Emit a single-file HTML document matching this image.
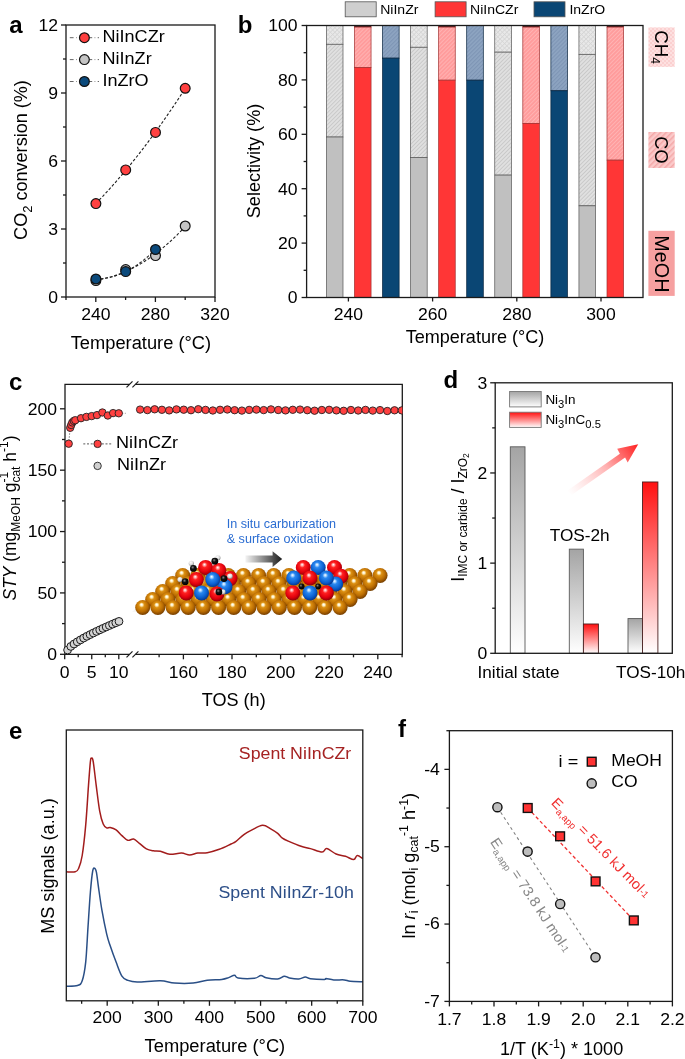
<!DOCTYPE html>
<html><head><meta charset="utf-8"><title>Figure</title>
<style>
html,body{margin:0;padding:0;background:#fff;overflow:hidden;}
svg{display:block;will-change:transform;}
text{font-family:"Liberation Sans",sans-serif;}
</style></head>
<body>
<svg width="685" height="1059" viewBox="0 0 685 1059">
<rect width="685" height="1059" fill="#fff"/>
<defs>
<pattern id="hg" width="2.8" height="2.8" patternUnits="userSpaceOnUse" patternTransform="rotate(45)"><rect width="2.8" height="2.8" fill="#e0e0e0"/><rect width="0.8" height="2.8" fill="#c6c6c6"/></pattern>
<pattern id="xg" width="3.2" height="3.2" patternUnits="userSpaceOnUse" patternTransform="rotate(45)"><rect width="3.2" height="3.2" fill="#e8e8e8"/><rect width="0.7" height="3.2" fill="#d2d2d2"/><rect width="3.2" height="0.7" fill="#d6d6d6"/></pattern>
<pattern id="hr" width="2.8" height="2.8" patternUnits="userSpaceOnUse" patternTransform="rotate(45)"><rect width="2.8" height="2.8" fill="#ff9c9c"/><rect width="0.9" height="2.8" fill="#ffb4b4"/></pattern>
<pattern id="hb" width="2.8" height="2.8" patternUnits="userSpaceOnUse" patternTransform="rotate(45)"><rect width="2.8" height="2.8" fill="#8ca3c0"/><rect width="0.9" height="2.8" fill="#7c94b4"/></pattern>
<pattern id="hpk" width="4" height="4" patternUnits="userSpaceOnUse"><rect width="4" height="4" fill="#fde0e0"/><rect width="2" height="2" fill="#fbd0d0"/><rect x="2" y="2" width="2" height="2" fill="#fbd0d0"/></pattern>
<pattern id="hpk2" width="4" height="4" patternUnits="userSpaceOnUse" patternTransform="rotate(45)"><rect width="4" height="4" fill="#fbcaca"/><rect width="1.5" height="4" fill="#f4a8a8"/></pattern>
</defs>
<text transform="translate(9.20,32.80) scale(1.0,1)" font-size="24" text-anchor="start" fill="#000" font-weight="bold">a</text>
<line x1="61.00" y1="297.00" x2="66.00" y2="297.00" stroke="#1a1a1a" stroke-width="1.3"/>
<text transform="translate(58.00,302.80) scale(1.035294117647059,1)" font-size="17.0" text-anchor="end" fill="#000">0</text>
<line x1="61.00" y1="229.00" x2="66.00" y2="229.00" stroke="#1a1a1a" stroke-width="1.3"/>
<text transform="translate(58.00,234.80) scale(1.035294117647059,1)" font-size="17.0" text-anchor="end" fill="#000">3</text>
<line x1="61.00" y1="161.00" x2="66.00" y2="161.00" stroke="#1a1a1a" stroke-width="1.3"/>
<text transform="translate(58.00,166.80) scale(1.035294117647059,1)" font-size="17.0" text-anchor="end" fill="#000">6</text>
<line x1="61.00" y1="93.00" x2="66.00" y2="93.00" stroke="#1a1a1a" stroke-width="1.3"/>
<text transform="translate(58.00,98.80) scale(1.035294117647059,1)" font-size="17.0" text-anchor="end" fill="#000">9</text>
<line x1="61.00" y1="25.00" x2="66.00" y2="25.00" stroke="#1a1a1a" stroke-width="1.3"/>
<text transform="translate(58.00,30.80) scale(1.035294117647059,1)" font-size="17.0" text-anchor="end" fill="#000">12</text>
<line x1="63.00" y1="263.00" x2="66.00" y2="263.00" stroke="#1a1a1a" stroke-width="1.3"/>
<line x1="63.00" y1="195.00" x2="66.00" y2="195.00" stroke="#1a1a1a" stroke-width="1.3"/>
<line x1="63.00" y1="127.00" x2="66.00" y2="127.00" stroke="#1a1a1a" stroke-width="1.3"/>
<line x1="63.00" y1="59.00" x2="66.00" y2="59.00" stroke="#1a1a1a" stroke-width="1.3"/>
<line x1="95.80" y1="297.00" x2="95.80" y2="302.00" stroke="#1a1a1a" stroke-width="1.3"/>
<text transform="translate(95.80,319.70) scale(1.035294117647059,1)" font-size="17.0" text-anchor="middle" fill="#000">240</text>
<line x1="155.40" y1="297.00" x2="155.40" y2="302.00" stroke="#1a1a1a" stroke-width="1.3"/>
<text transform="translate(155.40,319.70) scale(1.035294117647059,1)" font-size="17.0" text-anchor="middle" fill="#000">280</text>
<line x1="215.00" y1="297.00" x2="215.00" y2="302.00" stroke="#1a1a1a" stroke-width="1.3"/>
<text transform="translate(215.00,319.70) scale(1.035294117647059,1)" font-size="17.0" text-anchor="middle" fill="#000">320</text>
<line x1="66.00" y1="297.00" x2="66.00" y2="300.00" stroke="#1a1a1a" stroke-width="1.3"/>
<line x1="125.60" y1="297.00" x2="125.60" y2="300.00" stroke="#1a1a1a" stroke-width="1.3"/>
<line x1="185.20" y1="297.00" x2="185.20" y2="300.00" stroke="#1a1a1a" stroke-width="1.3"/>
<text transform="translate(140.90,348.60) scale(1.004835164835165,1)" font-size="18.2" text-anchor="middle" fill="#000">Temperature (°C)</text>
<text transform="translate(27.30,160.00) rotate(-90) scale(0.9934065934065933,1)" font-size="18.2" text-anchor="middle" fill="#000">CO<tspan font-size="13" dy="4.5">2</tspan><tspan dy="-4.5"> conversion (%)</tspan></text>
<path d="M95.90,203.45 L98.19,201.10 L100.48,198.71 L102.77,196.29 L105.06,193.84 L107.35,191.36 L109.64,188.84 L111.93,186.30 L114.22,183.73 L116.51,181.12 L118.80,178.48 L121.09,175.81 L123.38,173.11 L125.67,170.38 L127.96,167.62 L130.25,164.83 L132.54,162.00 L134.83,159.15 L137.12,156.26 L139.41,153.34 L141.69,150.40 L143.98,147.42 L146.27,144.40 L148.56,141.36 L150.85,138.29 L153.14,135.18 L155.43,132.05 L157.72,128.88 L160.01,125.68 L162.30,122.45 L164.59,119.19 L166.88,115.90 L169.17,112.58 L171.46,109.23 L173.75,105.84 L176.04,102.42 L178.33,98.98 L180.62,95.50 L182.91,91.99 L185.20,88.45" fill="none" stroke="#222" stroke-width="1.1" stroke-dasharray="2.8,1.9"/>
<path d="M95.90,279.97 L98.19,279.65 L100.48,279.27 L102.77,278.84 L105.06,278.36 L107.35,277.82 L109.64,277.23 L111.93,276.58 L114.22,275.87 L116.51,275.11 L118.80,274.30 L121.09,273.43 L123.38,272.50 L125.67,271.52 L127.96,270.48 L130.25,269.39 L132.54,268.24 L134.83,267.04 L137.12,265.79 L139.41,264.47 L141.69,263.11 L143.98,261.68 L146.27,260.21 L148.56,258.67 L150.85,257.08 L153.14,255.44 L155.43,253.74 L157.72,251.99 L160.01,250.18 L162.30,248.32 L164.59,246.40 L166.88,244.42 L169.17,242.39 L171.46,240.31 L173.75,238.17 L176.04,235.97 L178.33,233.72 L180.62,231.41 L182.91,229.05 L185.20,226.64" fill="none" stroke="#222" stroke-width="1.1" stroke-dasharray="2.8,1.9"/>
<path d="M95.90,279.00 L97.43,278.98 L98.96,278.92 L100.48,278.82 L102.01,278.68 L103.54,278.50 L105.07,278.29 L106.60,278.03 L108.13,277.74 L109.65,277.41 L111.18,277.04 L112.71,276.63 L114.24,276.19 L115.77,275.70 L117.29,275.18 L118.82,274.61 L120.35,274.01 L121.88,273.37 L123.41,272.69 L124.94,271.97 L126.46,271.22 L127.99,270.42 L129.52,269.59 L131.05,268.72 L132.58,267.80 L134.11,266.86 L135.63,265.87 L137.16,264.84 L138.69,263.77 L140.22,262.67 L141.75,261.53 L143.27,260.34 L144.80,259.12 L146.33,257.87 L147.86,256.57 L149.39,255.23 L150.92,253.86 L152.44,252.44 L153.97,250.99 L155.50,249.50" fill="none" stroke="#222" stroke-width="1.1" stroke-dasharray="2.8,1.9"/>
<circle cx="95.90" cy="280.60" r="4.90" fill="#c4c4c4" stroke="#111" stroke-width="1.2"/>
<circle cx="125.70" cy="269.60" r="4.90" fill="#c4c4c4" stroke="#111" stroke-width="1.2"/>
<circle cx="155.50" cy="255.60" r="4.90" fill="#c4c4c4" stroke="#111" stroke-width="1.2"/>
<circle cx="185.20" cy="226.00" r="4.90" fill="#c4c4c4" stroke="#111" stroke-width="1.2"/>
<circle cx="95.90" cy="279.00" r="4.90" fill="#0b4a7c" stroke="#111" stroke-width="1.2"/>
<circle cx="125.70" cy="271.60" r="4.90" fill="#0b4a7c" stroke="#111" stroke-width="1.2"/>
<circle cx="155.50" cy="249.50" r="4.90" fill="#0b4a7c" stroke="#111" stroke-width="1.2"/>
<circle cx="95.90" cy="203.60" r="4.90" fill="#ff4040" stroke="#111" stroke-width="1.2"/>
<circle cx="125.70" cy="169.90" r="4.90" fill="#ff4040" stroke="#111" stroke-width="1.2"/>
<circle cx="155.50" cy="132.40" r="4.90" fill="#ff4040" stroke="#111" stroke-width="1.2"/>
<circle cx="185.20" cy="88.30" r="4.90" fill="#ff4040" stroke="#111" stroke-width="1.2"/>
<line x1="69.80" y1="37.70" x2="99.00" y2="37.70" stroke="#555" stroke-width="0.9" stroke-dasharray="3.8,2.4,0.7,2.4"/>
<circle cx="84.40" cy="37.70" r="4.90" fill="#ff4040" stroke="#111" stroke-width="1.2"/>
<text transform="translate(102.50,41.90) scale(1.0635294117647058,1)" font-size="17.0" text-anchor="start" fill="#000">NiInCZr</text>
<line x1="69.80" y1="59.60" x2="99.00" y2="59.60" stroke="#555" stroke-width="0.9" stroke-dasharray="3.8,2.4,0.7,2.4"/>
<circle cx="84.40" cy="59.60" r="4.90" fill="#c4c4c4" stroke="#111" stroke-width="1.2"/>
<text transform="translate(102.50,63.80) scale(1.0635294117647058,1)" font-size="17.0" text-anchor="start" fill="#000">NiInZr</text>
<line x1="69.80" y1="81.50" x2="99.00" y2="81.50" stroke="#555" stroke-width="0.9" stroke-dasharray="3.8,2.4,0.7,2.4"/>
<circle cx="84.40" cy="81.50" r="4.90" fill="#0b4a7c" stroke="#111" stroke-width="1.2"/>
<text transform="translate(102.50,85.70) scale(1.0635294117647058,1)" font-size="17.0" text-anchor="start" fill="#000">InZrO</text>
<rect x="66.00" y="25.00" width="149.00" height="272.00" fill="none" stroke="#1a1a1a" stroke-width="1.3"/>
<text transform="translate(237.80,32.60) scale(1.0,1)" font-size="24" text-anchor="start" fill="#000" font-weight="bold">b</text>
<line x1="301.60" y1="297.50" x2="306.60" y2="297.50" stroke="#1a1a1a" stroke-width="1.3"/>
<text transform="translate(297.60,303.30) scale(1.035294117647059,1)" font-size="17.0" text-anchor="end" fill="#000">0</text>
<line x1="301.60" y1="243.10" x2="306.60" y2="243.10" stroke="#1a1a1a" stroke-width="1.3"/>
<text transform="translate(297.60,248.90) scale(1.035294117647059,1)" font-size="17.0" text-anchor="end" fill="#000">20</text>
<line x1="301.60" y1="188.70" x2="306.60" y2="188.70" stroke="#1a1a1a" stroke-width="1.3"/>
<text transform="translate(297.60,194.50) scale(1.035294117647059,1)" font-size="17.0" text-anchor="end" fill="#000">40</text>
<line x1="301.60" y1="134.30" x2="306.60" y2="134.30" stroke="#1a1a1a" stroke-width="1.3"/>
<text transform="translate(297.60,140.10) scale(1.035294117647059,1)" font-size="17.0" text-anchor="end" fill="#000">60</text>
<line x1="301.60" y1="79.90" x2="306.60" y2="79.90" stroke="#1a1a1a" stroke-width="1.3"/>
<text transform="translate(297.60,85.70) scale(1.035294117647059,1)" font-size="17.0" text-anchor="end" fill="#000">80</text>
<line x1="301.60" y1="25.50" x2="306.60" y2="25.50" stroke="#1a1a1a" stroke-width="1.3"/>
<text transform="translate(297.60,31.30) scale(1.035294117647059,1)" font-size="17.0" text-anchor="end" fill="#000">100</text>
<line x1="303.60" y1="270.30" x2="306.60" y2="270.30" stroke="#1a1a1a" stroke-width="1.3"/>
<line x1="303.60" y1="215.90" x2="306.60" y2="215.90" stroke="#1a1a1a" stroke-width="1.3"/>
<line x1="303.60" y1="161.50" x2="306.60" y2="161.50" stroke="#1a1a1a" stroke-width="1.3"/>
<line x1="303.60" y1="107.10" x2="306.60" y2="107.10" stroke="#1a1a1a" stroke-width="1.3"/>
<line x1="303.60" y1="52.70" x2="306.60" y2="52.70" stroke="#1a1a1a" stroke-width="1.3"/>
<line x1="348.40" y1="297.50" x2="348.40" y2="301.50" stroke="#1a1a1a" stroke-width="1.3"/>
<text transform="translate(348.40,320.20) scale(1.035294117647059,1)" font-size="17.0" text-anchor="middle" fill="#000">240</text>
<line x1="432.60" y1="297.50" x2="432.60" y2="301.50" stroke="#1a1a1a" stroke-width="1.3"/>
<text transform="translate(432.60,320.20) scale(1.035294117647059,1)" font-size="17.0" text-anchor="middle" fill="#000">260</text>
<line x1="516.80" y1="297.50" x2="516.80" y2="301.50" stroke="#1a1a1a" stroke-width="1.3"/>
<text transform="translate(516.80,320.20) scale(1.035294117647059,1)" font-size="17.0" text-anchor="middle" fill="#000">280</text>
<line x1="601.00" y1="297.50" x2="601.00" y2="301.50" stroke="#1a1a1a" stroke-width="1.3"/>
<text transform="translate(601.00,320.20) scale(1.035294117647059,1)" font-size="17.0" text-anchor="middle" fill="#000">300</text>
<text transform="translate(475.00,342.50) scale(0.9934065934065933,1)" font-size="18.2" text-anchor="middle" fill="#000">Temperature (°C)</text>
<text transform="translate(260.00,161.00) rotate(-90) scale(0.9934065934065933,1)" font-size="18.2" text-anchor="middle" fill="#000">Selectivity (%)</text>
<rect x="326.40" y="25.50" width="16.60" height="18.77" fill="url(#xg)" stroke="#555" stroke-width="0.7"/>
<rect x="326.40" y="44.27" width="16.60" height="92.75" fill="url(#hg)" stroke="#555" stroke-width="0.7"/>
<rect x="326.40" y="137.02" width="16.60" height="160.48" fill="#c0c0c0" stroke="#555" stroke-width="0.7"/>
<rect x="354.46" y="25.50" width="16.60" height="1.63" fill="url(#hr)" stroke="#a03030" stroke-width="0.7"/>
<rect x="354.46" y="27.13" width="16.60" height="40.53" fill="url(#hr)" stroke="#a03030" stroke-width="0.7"/>
<rect x="354.46" y="67.66" width="16.60" height="229.84" fill="#ff3636" stroke="#a03030" stroke-width="0.7"/>
<rect x="354.46" y="25.50" width="16.60" height="1.20" fill="#300" stroke="none" stroke-width="1"/>
<rect x="382.52" y="25.50" width="16.60" height="0.00" fill="url(#hb)" stroke="#06223c" stroke-width="0.7"/>
<rect x="382.52" y="25.50" width="16.60" height="32.64" fill="url(#hb)" stroke="#06223c" stroke-width="0.7"/>
<rect x="382.52" y="58.14" width="16.60" height="239.36" fill="#0a4674" stroke="#06223c" stroke-width="0.7"/>
<rect x="410.58" y="25.50" width="16.60" height="21.76" fill="url(#xg)" stroke="#555" stroke-width="0.7"/>
<rect x="410.58" y="47.26" width="16.60" height="110.16" fill="url(#hg)" stroke="#555" stroke-width="0.7"/>
<rect x="410.58" y="157.42" width="16.60" height="140.08" fill="#c0c0c0" stroke="#555" stroke-width="0.7"/>
<rect x="438.64" y="25.50" width="16.60" height="1.63" fill="url(#hr)" stroke="#a03030" stroke-width="0.7"/>
<rect x="438.64" y="27.13" width="16.60" height="53.04" fill="url(#hr)" stroke="#a03030" stroke-width="0.7"/>
<rect x="438.64" y="80.17" width="16.60" height="217.33" fill="#ff3636" stroke="#a03030" stroke-width="0.7"/>
<rect x="438.64" y="25.50" width="16.60" height="1.20" fill="#300" stroke="none" stroke-width="1"/>
<rect x="466.70" y="25.50" width="16.60" height="0.00" fill="url(#hb)" stroke="#06223c" stroke-width="0.7"/>
<rect x="466.70" y="25.50" width="16.60" height="54.67" fill="url(#hb)" stroke="#06223c" stroke-width="0.7"/>
<rect x="466.70" y="80.17" width="16.60" height="217.33" fill="#0a4674" stroke="#06223c" stroke-width="0.7"/>
<rect x="494.76" y="25.50" width="16.60" height="26.66" fill="url(#xg)" stroke="#555" stroke-width="0.7"/>
<rect x="494.76" y="52.16" width="16.60" height="122.94" fill="url(#hg)" stroke="#555" stroke-width="0.7"/>
<rect x="494.76" y="175.10" width="16.60" height="122.40" fill="#c0c0c0" stroke="#555" stroke-width="0.7"/>
<rect x="522.82" y="25.50" width="16.60" height="1.63" fill="url(#hr)" stroke="#a03030" stroke-width="0.7"/>
<rect x="522.82" y="27.13" width="16.60" height="96.29" fill="url(#hr)" stroke="#a03030" stroke-width="0.7"/>
<rect x="522.82" y="123.42" width="16.60" height="174.08" fill="#ff3636" stroke="#a03030" stroke-width="0.7"/>
<rect x="522.82" y="25.50" width="16.60" height="1.20" fill="#300" stroke="none" stroke-width="1"/>
<rect x="550.88" y="25.50" width="16.60" height="0.00" fill="url(#hb)" stroke="#06223c" stroke-width="0.7"/>
<rect x="550.88" y="25.50" width="16.60" height="65.28" fill="url(#hb)" stroke="#06223c" stroke-width="0.7"/>
<rect x="550.88" y="90.78" width="16.60" height="206.72" fill="#0a4674" stroke="#06223c" stroke-width="0.7"/>
<rect x="578.94" y="25.50" width="16.60" height="28.83" fill="url(#xg)" stroke="#555" stroke-width="0.7"/>
<rect x="578.94" y="54.33" width="16.60" height="151.50" fill="url(#hg)" stroke="#555" stroke-width="0.7"/>
<rect x="578.94" y="205.84" width="16.60" height="91.66" fill="#c0c0c0" stroke="#555" stroke-width="0.7"/>
<rect x="607.00" y="25.50" width="16.60" height="1.63" fill="url(#hr)" stroke="#a03030" stroke-width="0.7"/>
<rect x="607.00" y="27.13" width="16.60" height="133.01" fill="url(#hr)" stroke="#a03030" stroke-width="0.7"/>
<rect x="607.00" y="160.14" width="16.60" height="137.36" fill="#ff3636" stroke="#a03030" stroke-width="0.7"/>
<rect x="607.00" y="25.50" width="16.60" height="1.20" fill="#300" stroke="none" stroke-width="1"/>
<rect x="306.60" y="25.50" width="336.40" height="272.00" fill="none" stroke="#1a1a1a" stroke-width="1.3"/>
<rect x="345.20" y="1.80" width="31.00" height="15.00" fill="#cfcfcf" stroke="#555" stroke-width="0.8"/>
<text transform="translate(380.20,14.20) scale(1.08,1)" font-size="13" text-anchor="start" fill="#000">NiInZr</text>
<rect x="435.10" y="1.80" width="31.00" height="15.00" fill="#ff3636" stroke="#555" stroke-width="0.8"/>
<text transform="translate(470.00,14.20) scale(1.08,1)" font-size="13" text-anchor="start" fill="#000">NiInCZr</text>
<rect x="534.00" y="1.80" width="31.00" height="15.00" fill="#0a4674" stroke="#555" stroke-width="0.8"/>
<text transform="translate(569.40,14.20) scale(1.08,1)" font-size="13" text-anchor="start" fill="#000">InZrO</text>
<rect x="648.40" y="27.40" width="26.30" height="39.50" fill="url(#hpk)" stroke="none" stroke-width="1"/>
<text transform="translate(655.00,47.00) rotate(90) scale(1.1,1.12)" font-size="17" text-anchor="middle" fill="#000">CH<tspan font-size="11" dy="3.5">4</tspan></text>
<rect x="648.40" y="132.00" width="26.30" height="36.00" fill="url(#hpk2)" stroke="none" stroke-width="1"/>
<text transform="translate(655.00,149.90) rotate(90) scale(1.07,1.12)" font-size="17" text-anchor="middle" fill="#000">CO</text>
<rect x="648.40" y="230.80" width="26.30" height="65.10" fill="#f6a0a0" stroke="none" stroke-width="1"/>
<text transform="translate(655.00,263.90) rotate(90) scale(1.13,1.12)" font-size="17.5" text-anchor="middle" fill="#000">MeOH</text>
<text transform="translate(9.00,390.40) scale(1.0,1)" font-size="24" text-anchor="start" fill="#000" font-weight="bold">c</text>
<line x1="60.00" y1="654.30" x2="65.00" y2="654.30" stroke="#1a1a1a" stroke-width="1.3"/>
<text transform="translate(57.00,660.10) scale(1.035294117647059,1)" font-size="17.0" text-anchor="end" fill="#000">0</text>
<line x1="60.00" y1="592.92" x2="65.00" y2="592.92" stroke="#1a1a1a" stroke-width="1.3"/>
<text transform="translate(57.00,598.72) scale(1.035294117647059,1)" font-size="17.0" text-anchor="end" fill="#000">50</text>
<line x1="60.00" y1="531.55" x2="65.00" y2="531.55" stroke="#1a1a1a" stroke-width="1.3"/>
<text transform="translate(57.00,537.35) scale(1.035294117647059,1)" font-size="17.0" text-anchor="end" fill="#000">100</text>
<line x1="60.00" y1="470.17" x2="65.00" y2="470.17" stroke="#1a1a1a" stroke-width="1.3"/>
<text transform="translate(57.00,475.97) scale(1.035294117647059,1)" font-size="17.0" text-anchor="end" fill="#000">150</text>
<line x1="60.00" y1="408.80" x2="65.00" y2="408.80" stroke="#1a1a1a" stroke-width="1.3"/>
<text transform="translate(57.00,414.60) scale(1.035294117647059,1)" font-size="17.0" text-anchor="end" fill="#000">200</text>
<line x1="62.00" y1="623.61" x2="65.00" y2="623.61" stroke="#1a1a1a" stroke-width="1.3"/>
<line x1="62.00" y1="562.24" x2="65.00" y2="562.24" stroke="#1a1a1a" stroke-width="1.3"/>
<line x1="62.00" y1="500.86" x2="65.00" y2="500.86" stroke="#1a1a1a" stroke-width="1.3"/>
<line x1="62.00" y1="439.49" x2="65.00" y2="439.49" stroke="#1a1a1a" stroke-width="1.3"/>
<line x1="64.70" y1="654.30" x2="64.70" y2="659.30" stroke="#1a1a1a" stroke-width="1.3"/>
<text transform="translate(64.70,677.50) scale(1.035294117647059,1)" font-size="17.0" text-anchor="middle" fill="#000">0</text>
<line x1="91.75" y1="654.30" x2="91.75" y2="659.30" stroke="#1a1a1a" stroke-width="1.3"/>
<text transform="translate(91.75,677.50) scale(1.035294117647059,1)" font-size="17.0" text-anchor="middle" fill="#000">5</text>
<line x1="118.80" y1="654.30" x2="118.80" y2="659.30" stroke="#1a1a1a" stroke-width="1.3"/>
<text transform="translate(118.80,677.50) scale(1.035294117647059,1)" font-size="17.0" text-anchor="middle" fill="#000">10</text>
<line x1="78.23" y1="654.30" x2="78.23" y2="657.30" stroke="#1a1a1a" stroke-width="1.3"/>
<line x1="105.28" y1="654.30" x2="105.28" y2="657.30" stroke="#1a1a1a" stroke-width="1.3"/>
<line x1="183.40" y1="654.30" x2="183.40" y2="659.30" stroke="#1a1a1a" stroke-width="1.3"/>
<text transform="translate(183.40,677.50) scale(1.035294117647059,1)" font-size="17.0" text-anchor="middle" fill="#000">160</text>
<line x1="232.00" y1="654.30" x2="232.00" y2="659.30" stroke="#1a1a1a" stroke-width="1.3"/>
<text transform="translate(232.00,677.50) scale(1.035294117647059,1)" font-size="17.0" text-anchor="middle" fill="#000">180</text>
<line x1="280.60" y1="654.30" x2="280.60" y2="659.30" stroke="#1a1a1a" stroke-width="1.3"/>
<text transform="translate(280.60,677.50) scale(1.035294117647059,1)" font-size="17.0" text-anchor="middle" fill="#000">200</text>
<line x1="329.20" y1="654.30" x2="329.20" y2="659.30" stroke="#1a1a1a" stroke-width="1.3"/>
<text transform="translate(329.20,677.50) scale(1.035294117647059,1)" font-size="17.0" text-anchor="middle" fill="#000">220</text>
<line x1="377.80" y1="654.30" x2="377.80" y2="659.30" stroke="#1a1a1a" stroke-width="1.3"/>
<text transform="translate(377.80,677.50) scale(1.035294117647059,1)" font-size="17.0" text-anchor="middle" fill="#000">240</text>
<line x1="159.10" y1="654.30" x2="159.10" y2="657.30" stroke="#1a1a1a" stroke-width="1.3"/>
<line x1="207.70" y1="654.30" x2="207.70" y2="657.30" stroke="#1a1a1a" stroke-width="1.3"/>
<line x1="256.30" y1="654.30" x2="256.30" y2="657.30" stroke="#1a1a1a" stroke-width="1.3"/>
<line x1="304.90" y1="654.30" x2="304.90" y2="657.30" stroke="#1a1a1a" stroke-width="1.3"/>
<line x1="353.50" y1="654.30" x2="353.50" y2="657.30" stroke="#1a1a1a" stroke-width="1.3"/>
<line x1="402.10" y1="654.30" x2="402.10" y2="657.30" stroke="#1a1a1a" stroke-width="1.3"/>
<text transform="translate(233.70,705.90) scale(0.9934065934065933,1)" font-size="18.2" text-anchor="middle" fill="#000">TOS (h)</text>
<text transform="translate(16.00,518.00) rotate(-90) scale(0.9582417582417584,1)" font-size="18.2" text-anchor="middle" fill="#000"><tspan font-style="italic">STY</tspan> (mg<tspan font-size="12.5" dy="3.5">MeOH</tspan><tspan dy="-3.5"> g</tspan><tspan font-size="12.5" dy="-8">-1</tspan><tspan font-size="12.5" dx="-11.1" dy="11.5">cat</tspan><tspan dy="-3.5"> h</tspan><tspan font-size="12.5" dy="-8">-1</tspan><tspan dy="8">)</tspan></text>
<path d="M129.5,384.3 L65.0,384.3 L65.0,654.3 L129.5,654.3 M135.4,654.3 L402.3,654.3 L402.3,384.3 L135.4,384.3" fill="none" stroke="#1a1a1a" stroke-width="1.3"/>
<line x1="126.50" y1="387.30" x2="132.50" y2="381.30" stroke="#1a1a1a" stroke-width="1.2"/>
<line x1="132.40" y1="387.30" x2="138.40" y2="381.30" stroke="#1a1a1a" stroke-width="1.2"/>
<line x1="126.50" y1="657.30" x2="132.50" y2="651.30" stroke="#1a1a1a" stroke-width="1.2"/>
<line x1="132.40" y1="657.30" x2="138.40" y2="651.30" stroke="#1a1a1a" stroke-width="1.2"/>
<path d="M68.7,443.7 L70.2,427.8" stroke="#666" stroke-width="0.8" stroke-dasharray="1.5,1.5" fill="none"/>
<path d="M118.8,413.3 L126,413.3" stroke="#999" stroke-width="0.8" stroke-dasharray="1.5,1.5" fill="none"/>
<circle cx="67.60" cy="650.00" r="3.90" fill="#d4d4d4" stroke="#1a1a1a" stroke-width="1.0"/>
<circle cx="70.81" cy="646.42" r="3.90" fill="#d4d4d4" stroke="#1a1a1a" stroke-width="1.0"/>
<circle cx="74.02" cy="643.99" r="3.90" fill="#d4d4d4" stroke="#1a1a1a" stroke-width="1.0"/>
<circle cx="77.24" cy="641.85" r="3.90" fill="#d4d4d4" stroke="#1a1a1a" stroke-width="1.0"/>
<circle cx="80.45" cy="639.89" r="3.90" fill="#d4d4d4" stroke="#1a1a1a" stroke-width="1.0"/>
<circle cx="83.66" cy="638.05" r="3.90" fill="#d4d4d4" stroke="#1a1a1a" stroke-width="1.0"/>
<circle cx="86.88" cy="636.29" r="3.90" fill="#d4d4d4" stroke="#1a1a1a" stroke-width="1.0"/>
<circle cx="90.09" cy="634.61" r="3.90" fill="#d4d4d4" stroke="#1a1a1a" stroke-width="1.0"/>
<circle cx="93.30" cy="632.99" r="3.90" fill="#d4d4d4" stroke="#1a1a1a" stroke-width="1.0"/>
<circle cx="96.51" cy="631.42" r="3.90" fill="#d4d4d4" stroke="#1a1a1a" stroke-width="1.0"/>
<circle cx="99.72" cy="629.90" r="3.90" fill="#d4d4d4" stroke="#1a1a1a" stroke-width="1.0"/>
<circle cx="102.94" cy="628.41" r="3.90" fill="#d4d4d4" stroke="#1a1a1a" stroke-width="1.0"/>
<circle cx="106.15" cy="626.95" r="3.90" fill="#d4d4d4" stroke="#1a1a1a" stroke-width="1.0"/>
<circle cx="109.36" cy="625.52" r="3.90" fill="#d4d4d4" stroke="#1a1a1a" stroke-width="1.0"/>
<circle cx="112.58" cy="624.13" r="3.90" fill="#d4d4d4" stroke="#1a1a1a" stroke-width="1.0"/>
<circle cx="115.79" cy="622.75" r="3.90" fill="#d4d4d4" stroke="#1a1a1a" stroke-width="1.0"/>
<circle cx="119.00" cy="621.40" r="3.90" fill="#d4d4d4" stroke="#1a1a1a" stroke-width="1.0"/>
<circle cx="68.70" cy="443.70" r="3.70" fill="#ff4040" stroke="#222" stroke-width="0.9"/>
<circle cx="70.20" cy="427.80" r="3.70" fill="#ff4040" stroke="#222" stroke-width="0.9"/>
<circle cx="71.20" cy="425.00" r="3.70" fill="#ff4040" stroke="#222" stroke-width="0.9"/>
<circle cx="72.30" cy="422.50" r="3.70" fill="#ff4040" stroke="#222" stroke-width="0.9"/>
<circle cx="73.80" cy="421.00" r="3.70" fill="#ff4040" stroke="#222" stroke-width="0.9"/>
<circle cx="75.30" cy="420.20" r="3.70" fill="#ff4040" stroke="#222" stroke-width="0.9"/>
<circle cx="81.00" cy="418.20" r="3.70" fill="#ff4040" stroke="#222" stroke-width="0.9"/>
<circle cx="86.40" cy="416.90" r="3.70" fill="#ff4040" stroke="#222" stroke-width="0.9"/>
<circle cx="91.70" cy="416.10" r="3.70" fill="#ff4040" stroke="#222" stroke-width="0.9"/>
<circle cx="97.00" cy="415.10" r="3.70" fill="#ff4040" stroke="#222" stroke-width="0.9"/>
<circle cx="102.40" cy="412.50" r="3.70" fill="#ff4040" stroke="#222" stroke-width="0.9"/>
<circle cx="107.80" cy="415.50" r="3.70" fill="#ff4040" stroke="#222" stroke-width="0.9"/>
<circle cx="113.10" cy="413.10" r="3.70" fill="#ff4040" stroke="#222" stroke-width="0.9"/>
<circle cx="118.80" cy="413.30" r="3.70" fill="#ff4040" stroke="#222" stroke-width="0.9"/>
<clipPath id="cclip"><rect x="65" y="380" width="337.3" height="280"/></clipPath>
<g clip-path="url(#cclip)">
<circle cx="140.10" cy="409.60" r="3.70" fill="#ff4040" stroke="#222" stroke-width="0.9"/>
<circle cx="147.37" cy="410.10" r="3.70" fill="#ff4040" stroke="#222" stroke-width="0.9"/>
<circle cx="154.64" cy="409.30" r="3.70" fill="#ff4040" stroke="#222" stroke-width="0.9"/>
<circle cx="161.91" cy="409.80" r="3.70" fill="#ff4040" stroke="#222" stroke-width="0.9"/>
<circle cx="169.18" cy="410.40" r="3.70" fill="#ff4040" stroke="#222" stroke-width="0.9"/>
<circle cx="176.45" cy="409.40" r="3.70" fill="#ff4040" stroke="#222" stroke-width="0.9"/>
<circle cx="183.72" cy="409.70" r="3.70" fill="#ff4040" stroke="#222" stroke-width="0.9"/>
<circle cx="190.99" cy="410.20" r="3.70" fill="#ff4040" stroke="#222" stroke-width="0.9"/>
<circle cx="198.26" cy="409.20" r="3.70" fill="#ff4040" stroke="#222" stroke-width="0.9"/>
<circle cx="205.53" cy="409.90" r="3.70" fill="#ff4040" stroke="#222" stroke-width="0.9"/>
<circle cx="212.80" cy="410.50" r="3.70" fill="#ff4040" stroke="#222" stroke-width="0.9"/>
<circle cx="220.07" cy="409.80" r="3.70" fill="#ff4040" stroke="#222" stroke-width="0.9"/>
<circle cx="227.34" cy="409.50" r="3.70" fill="#ff4040" stroke="#222" stroke-width="0.9"/>
<circle cx="234.61" cy="410.20" r="3.70" fill="#ff4040" stroke="#222" stroke-width="0.9"/>
<circle cx="241.88" cy="410.60" r="3.70" fill="#ff4040" stroke="#222" stroke-width="0.9"/>
<circle cx="249.15" cy="409.90" r="3.70" fill="#ff4040" stroke="#222" stroke-width="0.9"/>
<circle cx="256.42" cy="409.60" r="3.70" fill="#ff4040" stroke="#222" stroke-width="0.9"/>
<circle cx="263.69" cy="410.10" r="3.70" fill="#ff4040" stroke="#222" stroke-width="0.9"/>
<circle cx="270.96" cy="409.40" r="3.70" fill="#ff4040" stroke="#222" stroke-width="0.9"/>
<circle cx="278.23" cy="410.00" r="3.70" fill="#ff4040" stroke="#222" stroke-width="0.9"/>
<circle cx="285.50" cy="410.40" r="3.70" fill="#ff4040" stroke="#222" stroke-width="0.9"/>
<circle cx="292.77" cy="409.80" r="3.70" fill="#ff4040" stroke="#222" stroke-width="0.9"/>
<circle cx="300.04" cy="409.60" r="3.70" fill="#ff4040" stroke="#222" stroke-width="0.9"/>
<circle cx="307.31" cy="410.20" r="3.70" fill="#ff4040" stroke="#222" stroke-width="0.9"/>
<circle cx="314.58" cy="410.70" r="3.70" fill="#ff4040" stroke="#222" stroke-width="0.9"/>
<circle cx="321.85" cy="410.00" r="3.70" fill="#ff4040" stroke="#222" stroke-width="0.9"/>
<circle cx="329.12" cy="409.80" r="3.70" fill="#ff4040" stroke="#222" stroke-width="0.9"/>
<circle cx="336.39" cy="410.40" r="3.70" fill="#ff4040" stroke="#222" stroke-width="0.9"/>
<circle cx="343.66" cy="410.80" r="3.70" fill="#ff4040" stroke="#222" stroke-width="0.9"/>
<circle cx="350.93" cy="410.00" r="3.70" fill="#ff4040" stroke="#222" stroke-width="0.9"/>
<circle cx="358.20" cy="410.50" r="3.70" fill="#ff4040" stroke="#222" stroke-width="0.9"/>
<circle cx="365.47" cy="409.90" r="3.70" fill="#ff4040" stroke="#222" stroke-width="0.9"/>
<circle cx="372.74" cy="410.60" r="3.70" fill="#ff4040" stroke="#222" stroke-width="0.9"/>
<circle cx="380.01" cy="410.10" r="3.70" fill="#ff4040" stroke="#222" stroke-width="0.9"/>
<circle cx="387.28" cy="411.00" r="3.70" fill="#ff4040" stroke="#222" stroke-width="0.9"/>
<circle cx="394.55" cy="410.30" r="3.70" fill="#ff4040" stroke="#222" stroke-width="0.9"/>
<circle cx="401.82" cy="410.40" r="3.70" fill="#ff4040" stroke="#222" stroke-width="0.9"/>
<circle cx="409.09" cy="409.60" r="3.70" fill="#ff4040" stroke="#222" stroke-width="0.9"/>
</g>
<line x1="83.30" y1="443.90" x2="111.60" y2="443.90" stroke="#444" stroke-width="0.9" stroke-dasharray="2,1.7"/>
<circle cx="97.60" cy="443.90" r="3.70" fill="#ff4040" stroke="#222" stroke-width="0.9"/>
<text transform="translate(115.90,447.90) scale(1.0635294117647058,1)" font-size="17.0" text-anchor="start" fill="#000">NiInCZr</text>
<circle cx="97.60" cy="465.90" r="3.70" fill="#d0d0d0" stroke="#222" stroke-width="0.9"/>
<text transform="translate(116.90,469.90) scale(1.0635294117647058,1)" font-size="17.0" text-anchor="start" fill="#000">NiInZr</text>
<defs>
<radialGradient id="gAu" cx="0.45" cy="0.42" r="0.6" fx="0.42" fy="0.3">
<stop offset="0" stop-color="#ffffff"/><stop offset="0.12" stop-color="#fff2c8"/><stop offset="0.3" stop-color="#dc9012"/><stop offset="0.65" stop-color="#bb6d02"/><stop offset="0.9" stop-color="#864800"/><stop offset="1" stop-color="#6e3c00"/></radialGradient>
<radialGradient id="gR" cx="0.45" cy="0.42" r="0.6" fx="0.42" fy="0.3">
<stop offset="0" stop-color="#ffffff"/><stop offset="0.12" stop-color="#ffb0b0"/><stop offset="0.3" stop-color="#ff2020"/><stop offset="0.7" stop-color="#e0000c"/><stop offset="1" stop-color="#8a0008"/></radialGradient>
<radialGradient id="gB" cx="0.45" cy="0.42" r="0.6" fx="0.42" fy="0.3">
<stop offset="0" stop-color="#ffffff"/><stop offset="0.12" stop-color="#b0d8ff"/><stop offset="0.3" stop-color="#2a88f0"/><stop offset="0.7" stop-color="#0a60d0"/><stop offset="1" stop-color="#06348a"/></radialGradient>
<radialGradient id="gK" cx="0.4" cy="0.35" r="0.65"><stop offset="0" stop-color="#888"/><stop offset="0.4" stop-color="#111"/><stop offset="1" stop-color="#000"/></radialGradient>
<radialGradient id="gW" cx="0.4" cy="0.35" r="0.65"><stop offset="0" stop-color="#fff"/><stop offset="0.6" stop-color="#ddd"/><stop offset="1" stop-color="#888"/></radialGradient>
<linearGradient id="gArr" x1="0" y1="0" x2="1" y2="0"><stop offset="0" stop-color="#f4f4f4"/><stop offset="1" stop-color="#1a1a1a"/></linearGradient>
</defs>
<path d="M132,612 L178,570 L392,570 L346,612 Z" fill="#eee" opacity="0.5"/>
<circle cx="182.70" cy="575.50" r="7.50" fill="url(#gAu)" stroke="none" stroke-width="0"/>
<circle cx="197.88" cy="575.50" r="7.50" fill="url(#gAu)" stroke="none" stroke-width="0"/>
<circle cx="213.06" cy="575.50" r="7.50" fill="url(#gAu)" stroke="none" stroke-width="0"/>
<circle cx="228.24" cy="575.50" r="7.50" fill="url(#gAu)" stroke="none" stroke-width="0"/>
<circle cx="243.42" cy="575.50" r="7.50" fill="url(#gAu)" stroke="none" stroke-width="0"/>
<circle cx="258.60" cy="575.50" r="7.50" fill="url(#gAu)" stroke="none" stroke-width="0"/>
<circle cx="273.78" cy="575.50" r="7.50" fill="url(#gAu)" stroke="none" stroke-width="0"/>
<circle cx="288.96" cy="575.50" r="7.50" fill="url(#gAu)" stroke="none" stroke-width="0"/>
<circle cx="304.14" cy="575.50" r="7.50" fill="url(#gAu)" stroke="none" stroke-width="0"/>
<circle cx="319.32" cy="575.50" r="7.50" fill="url(#gAu)" stroke="none" stroke-width="0"/>
<circle cx="334.50" cy="575.50" r="7.50" fill="url(#gAu)" stroke="none" stroke-width="0"/>
<circle cx="349.68" cy="575.50" r="7.50" fill="url(#gAu)" stroke="none" stroke-width="0"/>
<circle cx="364.86" cy="575.50" r="7.50" fill="url(#gAu)" stroke="none" stroke-width="0"/>
<circle cx="380.04" cy="575.50" r="7.50" fill="url(#gAu)" stroke="none" stroke-width="0"/>
<circle cx="172.70" cy="583.50" r="7.50" fill="url(#gAu)" stroke="none" stroke-width="0"/>
<circle cx="187.88" cy="583.50" r="7.50" fill="url(#gAu)" stroke="none" stroke-width="0"/>
<circle cx="203.06" cy="583.50" r="7.50" fill="url(#gAu)" stroke="none" stroke-width="0"/>
<circle cx="218.24" cy="583.50" r="7.50" fill="url(#gAu)" stroke="none" stroke-width="0"/>
<circle cx="233.42" cy="583.50" r="7.50" fill="url(#gAu)" stroke="none" stroke-width="0"/>
<circle cx="248.60" cy="583.50" r="7.50" fill="url(#gAu)" stroke="none" stroke-width="0"/>
<circle cx="263.78" cy="583.50" r="7.50" fill="url(#gAu)" stroke="none" stroke-width="0"/>
<circle cx="278.96" cy="583.50" r="7.50" fill="url(#gAu)" stroke="none" stroke-width="0"/>
<circle cx="294.14" cy="583.50" r="7.50" fill="url(#gAu)" stroke="none" stroke-width="0"/>
<circle cx="309.32" cy="583.50" r="7.50" fill="url(#gAu)" stroke="none" stroke-width="0"/>
<circle cx="324.50" cy="583.50" r="7.50" fill="url(#gAu)" stroke="none" stroke-width="0"/>
<circle cx="339.68" cy="583.50" r="7.50" fill="url(#gAu)" stroke="none" stroke-width="0"/>
<circle cx="354.86" cy="583.50" r="7.50" fill="url(#gAu)" stroke="none" stroke-width="0"/>
<circle cx="370.04" cy="583.50" r="7.50" fill="url(#gAu)" stroke="none" stroke-width="0"/>
<circle cx="162.70" cy="591.50" r="7.50" fill="url(#gAu)" stroke="none" stroke-width="0"/>
<circle cx="177.88" cy="591.50" r="7.50" fill="url(#gAu)" stroke="none" stroke-width="0"/>
<circle cx="193.06" cy="591.50" r="7.50" fill="url(#gAu)" stroke="none" stroke-width="0"/>
<circle cx="208.24" cy="591.50" r="7.50" fill="url(#gAu)" stroke="none" stroke-width="0"/>
<circle cx="223.42" cy="591.50" r="7.50" fill="url(#gAu)" stroke="none" stroke-width="0"/>
<circle cx="238.60" cy="591.50" r="7.50" fill="url(#gAu)" stroke="none" stroke-width="0"/>
<circle cx="253.78" cy="591.50" r="7.50" fill="url(#gAu)" stroke="none" stroke-width="0"/>
<circle cx="268.96" cy="591.50" r="7.50" fill="url(#gAu)" stroke="none" stroke-width="0"/>
<circle cx="284.14" cy="591.50" r="7.50" fill="url(#gAu)" stroke="none" stroke-width="0"/>
<circle cx="299.32" cy="591.50" r="7.50" fill="url(#gAu)" stroke="none" stroke-width="0"/>
<circle cx="314.50" cy="591.50" r="7.50" fill="url(#gAu)" stroke="none" stroke-width="0"/>
<circle cx="329.68" cy="591.50" r="7.50" fill="url(#gAu)" stroke="none" stroke-width="0"/>
<circle cx="344.86" cy="591.50" r="7.50" fill="url(#gAu)" stroke="none" stroke-width="0"/>
<circle cx="360.04" cy="591.50" r="7.50" fill="url(#gAu)" stroke="none" stroke-width="0"/>
<circle cx="152.70" cy="599.50" r="7.50" fill="url(#gAu)" stroke="none" stroke-width="0"/>
<circle cx="167.88" cy="599.50" r="7.50" fill="url(#gAu)" stroke="none" stroke-width="0"/>
<circle cx="183.06" cy="599.50" r="7.50" fill="url(#gAu)" stroke="none" stroke-width="0"/>
<circle cx="198.24" cy="599.50" r="7.50" fill="url(#gAu)" stroke="none" stroke-width="0"/>
<circle cx="213.42" cy="599.50" r="7.50" fill="url(#gAu)" stroke="none" stroke-width="0"/>
<circle cx="228.60" cy="599.50" r="7.50" fill="url(#gAu)" stroke="none" stroke-width="0"/>
<circle cx="243.78" cy="599.50" r="7.50" fill="url(#gAu)" stroke="none" stroke-width="0"/>
<circle cx="258.96" cy="599.50" r="7.50" fill="url(#gAu)" stroke="none" stroke-width="0"/>
<circle cx="274.14" cy="599.50" r="7.50" fill="url(#gAu)" stroke="none" stroke-width="0"/>
<circle cx="289.32" cy="599.50" r="7.50" fill="url(#gAu)" stroke="none" stroke-width="0"/>
<circle cx="304.50" cy="599.50" r="7.50" fill="url(#gAu)" stroke="none" stroke-width="0"/>
<circle cx="319.68" cy="599.50" r="7.50" fill="url(#gAu)" stroke="none" stroke-width="0"/>
<circle cx="334.86" cy="599.50" r="7.50" fill="url(#gAu)" stroke="none" stroke-width="0"/>
<circle cx="350.04" cy="599.50" r="7.50" fill="url(#gAu)" stroke="none" stroke-width="0"/>
<circle cx="142.70" cy="607.50" r="7.50" fill="url(#gAu)" stroke="none" stroke-width="0"/>
<circle cx="157.88" cy="607.50" r="7.50" fill="url(#gAu)" stroke="none" stroke-width="0"/>
<circle cx="173.06" cy="607.50" r="7.50" fill="url(#gAu)" stroke="none" stroke-width="0"/>
<circle cx="188.24" cy="607.50" r="7.50" fill="url(#gAu)" stroke="none" stroke-width="0"/>
<circle cx="203.42" cy="607.50" r="7.50" fill="url(#gAu)" stroke="none" stroke-width="0"/>
<circle cx="218.60" cy="607.50" r="7.50" fill="url(#gAu)" stroke="none" stroke-width="0"/>
<circle cx="233.78" cy="607.50" r="7.50" fill="url(#gAu)" stroke="none" stroke-width="0"/>
<circle cx="248.96" cy="607.50" r="7.50" fill="url(#gAu)" stroke="none" stroke-width="0"/>
<circle cx="264.14" cy="607.50" r="7.50" fill="url(#gAu)" stroke="none" stroke-width="0"/>
<circle cx="279.32" cy="607.50" r="7.50" fill="url(#gAu)" stroke="none" stroke-width="0"/>
<circle cx="294.50" cy="607.50" r="7.50" fill="url(#gAu)" stroke="none" stroke-width="0"/>
<circle cx="309.68" cy="607.50" r="7.50" fill="url(#gAu)" stroke="none" stroke-width="0"/>
<circle cx="324.86" cy="607.50" r="7.50" fill="url(#gAu)" stroke="none" stroke-width="0"/>
<circle cx="340.04" cy="607.50" r="7.50" fill="url(#gAu)" stroke="none" stroke-width="0"/>
<circle cx="230.10" cy="578.60" r="7.50" fill="url(#gR)" stroke="none" stroke-width="0"/>
<circle cx="225.00" cy="586.80" r="7.50" fill="url(#gB)" stroke="none" stroke-width="0"/>
<circle cx="205.60" cy="567.40" r="7.50" fill="url(#gR)" stroke="none" stroke-width="0"/>
<circle cx="218.90" cy="570.40" r="7.50" fill="url(#gR)" stroke="none" stroke-width="0"/>
<circle cx="196.40" cy="579.60" r="7.50" fill="url(#gR)" stroke="none" stroke-width="0"/>
<circle cx="212.80" cy="579.60" r="7.50" fill="url(#gB)" stroke="none" stroke-width="0"/>
<circle cx="186.20" cy="592.90" r="7.50" fill="url(#gR)" stroke="none" stroke-width="0"/>
<circle cx="201.50" cy="592.90" r="7.50" fill="url(#gB)" stroke="none" stroke-width="0"/>
<circle cx="216.90" cy="594.00" r="7.50" fill="url(#gR)" stroke="none" stroke-width="0"/>
<circle cx="191.30" cy="563.30" r="2.60" fill="url(#gW)" stroke="none" stroke-width="0"/>
<circle cx="193.40" cy="568.40" r="3.40" fill="url(#gK)" stroke="none" stroke-width="0"/>
<circle cx="217.90" cy="557.80" r="2.60" fill="url(#gW)" stroke="none" stroke-width="0"/>
<circle cx="214.80" cy="561.20" r="3.40" fill="url(#gK)" stroke="none" stroke-width="0"/>
<circle cx="180.00" cy="579.60" r="2.60" fill="url(#gW)" stroke="none" stroke-width="0"/>
<circle cx="185.20" cy="581.70" r="3.40" fill="url(#gK)" stroke="none" stroke-width="0"/>
<circle cx="230.10" cy="576.20" r="2.60" fill="url(#gW)" stroke="none" stroke-width="0"/>
<circle cx="224.00" cy="578.60" r="3.40" fill="url(#gK)" stroke="none" stroke-width="0"/>
<circle cx="223.00" cy="591.90" r="2.60" fill="url(#gW)" stroke="none" stroke-width="0"/>
<circle cx="218.90" cy="591.90" r="3.40" fill="url(#gK)" stroke="none" stroke-width="0"/>
<circle cx="303.30" cy="567.50" r="7.50" fill="url(#gR)" stroke="none" stroke-width="0"/>
<circle cx="318.20" cy="567.50" r="7.50" fill="url(#gB)" stroke="none" stroke-width="0"/>
<circle cx="334.50" cy="567.50" r="7.50" fill="url(#gR)" stroke="none" stroke-width="0"/>
<circle cx="341.00" cy="576.30" r="7.50" fill="url(#gR)" stroke="none" stroke-width="0"/>
<circle cx="335.70" cy="584.00" r="7.50" fill="url(#gB)" stroke="none" stroke-width="0"/>
<circle cx="293.70" cy="578.00" r="7.50" fill="url(#gB)" stroke="none" stroke-width="0"/>
<circle cx="310.00" cy="578.00" r="7.50" fill="url(#gR)" stroke="none" stroke-width="0"/>
<circle cx="326.40" cy="578.00" r="7.50" fill="url(#gB)" stroke="none" stroke-width="0"/>
<circle cx="301.50" cy="586.50" r="3.00" fill="url(#gK)" stroke="none" stroke-width="0"/>
<circle cx="318.20" cy="586.50" r="3.00" fill="url(#gK)" stroke="none" stroke-width="0"/>
<circle cx="292.80" cy="592.90" r="7.50" fill="url(#gR)" stroke="none" stroke-width="0"/>
<circle cx="310.00" cy="592.90" r="7.50" fill="url(#gB)" stroke="none" stroke-width="0"/>
<circle cx="326.40" cy="592.90" r="7.50" fill="url(#gR)" stroke="none" stroke-width="0"/>
<path d="M245.4,555.4 L272.6,555.4 L272.6,551.2 L282.2,559 L272.6,566.9 L272.6,562.4 L245.4,562.4 Z" fill="url(#gArr)"/>
<text transform="translate(226.70,528.00) scale(1.0,1)" font-size="12.6" text-anchor="start" fill="#2b6dd2">In situ carburization</text>
<text transform="translate(226.70,543.30) scale(1.0,1)" font-size="12.6" text-anchor="start" fill="#2b6dd2">&amp; surface oxidation</text>
<text transform="translate(443.40,388.20) scale(1.0,1)" font-size="24" text-anchor="start" fill="#000" font-weight="bold">d</text>
<defs>
<linearGradient id="gGray" x1="0" y1="0" x2="0" y2="1"><stop offset="0" stop-color="#a4a4a4"/><stop offset="1" stop-color="#ffffff"/></linearGradient>
<linearGradient id="gRed" x1="0" y1="0" x2="0" y2="1"><stop offset="0" stop-color="#ff1010"/><stop offset="1" stop-color="#ffffff"/></linearGradient>
<linearGradient id="gArrR" x1="568.5" y1="493.5" x2="638.2" y2="444.2" gradientUnits="userSpaceOnUse"><stop offset="0" stop-color="#ffffff" stop-opacity="0.6"/><stop offset="0.55" stop-color="#ffb0b0"/><stop offset="1" stop-color="#ff2020"/></linearGradient>
</defs>
<line x1="490.20" y1="653.30" x2="495.20" y2="653.30" stroke="#1a1a1a" stroke-width="1.3"/>
<text transform="translate(487.20,659.10) scale(1.035294117647059,1)" font-size="17.0" text-anchor="end" fill="#000">0</text>
<line x1="490.20" y1="563.13" x2="495.20" y2="563.13" stroke="#1a1a1a" stroke-width="1.3"/>
<text transform="translate(487.20,568.93) scale(1.035294117647059,1)" font-size="17.0" text-anchor="end" fill="#000">1</text>
<line x1="490.20" y1="472.96" x2="495.20" y2="472.96" stroke="#1a1a1a" stroke-width="1.3"/>
<text transform="translate(487.20,478.76) scale(1.035294117647059,1)" font-size="17.0" text-anchor="end" fill="#000">2</text>
<line x1="490.20" y1="382.79" x2="495.20" y2="382.79" stroke="#1a1a1a" stroke-width="1.3"/>
<text transform="translate(487.20,388.59) scale(1.035294117647059,1)" font-size="17.0" text-anchor="end" fill="#000">3</text>
<line x1="492.20" y1="608.21" x2="495.20" y2="608.21" stroke="#1a1a1a" stroke-width="1.3"/>
<line x1="492.20" y1="518.04" x2="495.20" y2="518.04" stroke="#1a1a1a" stroke-width="1.3"/>
<line x1="492.20" y1="427.87" x2="495.20" y2="427.87" stroke="#1a1a1a" stroke-width="1.3"/>
<rect x="510.30" y="446.81" width="14.70" height="206.49" fill="url(#gGray)" stroke="#5a5a5a" stroke-width="0.9"/>
<rect x="569.30" y="549.15" width="14.10" height="104.15" fill="url(#gGray)" stroke="#5a5a5a" stroke-width="0.9"/>
<rect x="583.40" y="623.99" width="15.00" height="29.31" fill="url(#gRed)" stroke="#4a2020" stroke-width="0.9"/>
<rect x="628.00" y="618.58" width="14.50" height="34.72" fill="url(#gGray)" stroke="#5a5a5a" stroke-width="0.9"/>
<rect x="642.50" y="481.98" width="15.40" height="171.32" fill="url(#gRed)" stroke="#4a2020" stroke-width="0.9"/>
<rect x="509.60" y="391.50" width="31.60" height="15.40" fill="url(#gGray)" stroke="#777" stroke-width="0.9"/>
<rect x="509.60" y="412.20" width="31.60" height="15.20" fill="url(#gRed)" stroke="#777" stroke-width="0.9"/>
<text transform="translate(545.40,403.70) scale(1.02,1)" font-size="13.2" text-anchor="start" fill="#000">Ni<tspan font-size="11" dy="4">3</tspan><tspan dy="-4">In</tspan></text>
<text transform="translate(545.40,423.60) scale(1.02,1)" font-size="13.2" text-anchor="start" fill="#000">Ni<tspan font-size="11" dy="4">3</tspan><tspan dy="-4">InC</tspan><tspan font-size="11" dy="4">0.5</tspan></text>
<path d="M566.8,491.0 L619.9,453.8 L617.2,448.8 L638.2,444.2 L627.7,462.6 L625.1,457.6 L572,494.8 Z" fill="url(#gArrR)"/>
<text transform="translate(579.70,540.90) scale(1.0145882352941178,1)" font-size="17.0" text-anchor="middle" fill="#000">TOS-2h</text>
<text transform="translate(518.55,677.50) scale(1.0098823529411765,1)" font-size="17.0" text-anchor="middle" fill="#000">Initial state</text>
<text transform="translate(616.00,677.70) scale(1.0098823529411765,1)" font-size="17.0" text-anchor="start" fill="#000">TOS-10h</text>
<text transform="translate(464.30,517.50) rotate(-90) scale(0.995,1)" font-size="18" text-anchor="middle" fill="#000">I<tspan font-size="12" dy="3">IMC or carbide</tspan><tspan dy="-3"> / I</tspan><tspan font-size="12" dy="3">ZrO</tspan><tspan font-size="8.5" dy="2">2</tspan></text>
<rect x="495.20" y="382.80" width="177.10" height="270.50" fill="none" stroke="#1a1a1a" stroke-width="1.3"/>
<text transform="translate(9.00,738.60) scale(1.0,1)" font-size="24" text-anchor="start" fill="#000" font-weight="bold">e</text>
<line x1="107.20" y1="1000.80" x2="107.20" y2="1005.80" stroke="#1a1a1a" stroke-width="1.3"/>
<text transform="translate(107.20,1023.10) scale(1.035294117647059,1)" font-size="17.0" text-anchor="middle" fill="#000">200</text>
<line x1="158.32" y1="1000.80" x2="158.32" y2="1005.80" stroke="#1a1a1a" stroke-width="1.3"/>
<text transform="translate(158.32,1023.10) scale(1.035294117647059,1)" font-size="17.0" text-anchor="middle" fill="#000">300</text>
<line x1="209.44" y1="1000.80" x2="209.44" y2="1005.80" stroke="#1a1a1a" stroke-width="1.3"/>
<text transform="translate(209.44,1023.10) scale(1.035294117647059,1)" font-size="17.0" text-anchor="middle" fill="#000">400</text>
<line x1="260.56" y1="1000.80" x2="260.56" y2="1005.80" stroke="#1a1a1a" stroke-width="1.3"/>
<text transform="translate(260.56,1023.10) scale(1.035294117647059,1)" font-size="17.0" text-anchor="middle" fill="#000">500</text>
<line x1="311.68" y1="1000.80" x2="311.68" y2="1005.80" stroke="#1a1a1a" stroke-width="1.3"/>
<text transform="translate(311.68,1023.10) scale(1.035294117647059,1)" font-size="17.0" text-anchor="middle" fill="#000">600</text>
<line x1="362.80" y1="1000.80" x2="362.80" y2="1005.80" stroke="#1a1a1a" stroke-width="1.3"/>
<text transform="translate(362.80,1023.10) scale(1.035294117647059,1)" font-size="17.0" text-anchor="middle" fill="#000">700</text>
<line x1="81.64" y1="1000.80" x2="81.64" y2="1003.80" stroke="#1a1a1a" stroke-width="1.3"/>
<line x1="132.76" y1="1000.80" x2="132.76" y2="1003.80" stroke="#1a1a1a" stroke-width="1.3"/>
<line x1="183.88" y1="1000.80" x2="183.88" y2="1003.80" stroke="#1a1a1a" stroke-width="1.3"/>
<line x1="235.00" y1="1000.80" x2="235.00" y2="1003.80" stroke="#1a1a1a" stroke-width="1.3"/>
<line x1="286.12" y1="1000.80" x2="286.12" y2="1003.80" stroke="#1a1a1a" stroke-width="1.3"/>
<line x1="337.24" y1="1000.80" x2="337.24" y2="1003.80" stroke="#1a1a1a" stroke-width="1.3"/>
<text transform="translate(214.90,1051.70) scale(1.0065934065934066,1)" font-size="18.2" text-anchor="middle" fill="#000">Temperature (°C)</text>
<text transform="translate(54.30,866.00) rotate(-90) scale(0.9934065934065933,1)" font-size="18.2" text-anchor="middle" fill="#000">MS signals (a.u.)</text>
<path d="M66.30,871.80 C67.78,871.80 73.13,872.38 75.20,871.80 C77.27,871.22 77.53,871.02 78.70,868.30 C79.87,865.58 81.03,862.70 82.20,855.50 C83.37,848.30 84.65,836.78 85.70,825.10 C86.75,813.42 87.72,796.00 88.50,785.40 C89.28,774.80 89.90,766.02 90.40,761.50 C90.90,756.98 91.03,758.30 91.50,758.30 C91.97,758.30 92.42,756.98 93.20,761.50 C93.98,766.02 95.12,777.13 96.20,785.40 C97.28,793.67 98.53,804.67 99.70,811.10 C100.87,817.53 102.03,821.20 103.20,824.00 C104.37,826.80 105.53,827.32 106.70,827.90 C107.87,828.48 108.63,827.18 110.20,827.50 C111.77,827.82 114.15,828.45 116.10,829.80 C118.05,831.15 119.97,833.85 121.90,835.60 C123.83,837.35 125.75,839.72 127.70,840.30 C129.65,840.88 131.65,838.60 133.60,839.10 C135.55,839.60 137.27,841.67 139.40,843.30 C141.53,844.93 144.07,847.65 146.40,848.90 C148.73,850.15 151.07,850.40 153.40,850.80 C155.73,851.20 157.67,850.72 160.40,851.30 C163.13,851.88 166.28,854.00 169.80,854.30 C173.32,854.60 178.20,852.98 181.50,853.10 C184.80,853.22 186.88,855.00 189.60,855.00 C192.32,855.00 194.87,853.48 197.80,853.10 C200.73,852.72 203.62,853.33 207.20,852.70 C210.78,852.07 215.33,850.75 219.30,849.30 C223.27,847.85 228.27,845.28 231.00,844.00 C233.73,842.72 233.55,843.17 235.70,841.60 C237.85,840.03 241.18,836.55 243.90,834.60 C246.62,832.65 248.88,831.45 252.00,829.90 C255.12,828.35 259.48,825.48 262.60,825.30 C265.72,825.12 268.18,827.45 270.70,828.80 C273.22,830.15 275.75,831.85 277.70,833.40 C279.65,834.95 280.45,836.73 282.40,838.10 C284.35,839.47 286.28,840.23 289.40,841.60 C292.52,842.97 297.60,845.13 301.10,846.30 C304.60,847.47 306.90,847.63 310.40,848.60 C313.90,849.57 319.37,852.10 322.10,852.10 C324.83,852.10 324.47,848.28 326.80,848.60 C329.13,848.92 332.98,852.72 336.10,854.00 C339.22,855.28 342.57,855.37 345.50,856.30 C348.43,857.23 351.75,859.72 353.70,859.60 C355.65,859.48 355.68,855.78 357.20,855.60 C358.72,855.42 361.87,858.02 362.80,858.50" fill="none" stroke="#a21c1c" stroke-width="1.5" stroke-linejoin="round"/>
<path d="M66.30,986.20 C68.17,986.08 74.85,986.40 77.50,985.50 C80.15,984.60 80.83,984.70 82.20,980.80 C83.57,976.90 84.73,971.05 85.70,962.10 C86.67,953.15 87.22,938.78 88.00,927.10 C88.78,915.42 89.62,901.35 90.40,892.00 C91.18,882.65 92.00,874.97 92.70,871.00 C93.40,867.03 93.98,868.00 94.60,868.20 C95.22,868.40 95.75,869.00 96.40,872.20 C97.05,875.40 97.57,880.98 98.50,887.40 C99.43,893.82 100.63,902.92 102.00,910.70 C103.37,918.48 105.33,928.25 106.70,934.10 C108.07,939.95 108.63,941.13 110.20,945.80 C111.77,950.47 114.15,957.05 116.10,962.10 C118.05,967.15 119.97,973.07 121.90,976.10 C123.83,979.13 125.17,979.32 127.70,980.30 C130.23,981.28 131.65,981.92 137.10,982.00 C142.55,982.08 154.17,980.62 160.40,980.80 C166.63,980.98 169.05,982.72 174.50,983.10 C179.95,983.48 187.65,983.57 193.10,983.10 C198.55,982.63 202.43,980.92 207.20,980.30 C211.97,979.68 218.12,979.85 221.70,979.40 C225.28,978.95 226.57,978.30 228.70,977.60 C230.83,976.90 232.95,975.13 234.50,975.20 C236.05,975.27 234.68,977.48 238.00,978.00 C241.32,978.52 250.58,978.72 254.40,978.30 C258.22,977.88 258.95,975.58 260.90,975.50 C262.85,975.42 263.30,977.22 266.10,977.80 C268.90,978.38 274.67,979.27 277.70,979.00 C280.73,978.73 282.35,976.37 284.30,976.20 C286.25,976.03 286.98,977.53 289.40,978.00 C291.82,978.47 296.15,979.15 298.80,979.00 C301.45,978.85 303.37,977.15 305.30,977.10 C307.23,977.05 307.20,978.32 310.40,978.70 C313.60,979.08 321.90,979.42 324.50,979.40 C327.10,979.38 324.45,978.52 326.00,978.60 C327.55,978.68 330.75,979.68 333.80,979.90 C336.85,980.12 341.57,979.67 344.30,979.90 C347.03,980.13 347.12,980.98 350.20,981.30 C353.28,981.62 360.70,981.72 362.80,981.80" fill="none" stroke="#2a4f86" stroke-width="1.5" stroke-linejoin="round"/>
<text transform="translate(238.80,759.20) scale(1.0447058823529414,1)" font-size="17.0" text-anchor="start" fill="#a52222">Spent NiInCZr</text>
<text transform="translate(218.40,898.00) scale(1.0475294117647058,1)" font-size="17.0" text-anchor="start" fill="#2d4f88">Spent NiInZr-10h</text>
<rect x="66.30" y="730.00" width="296.50" height="270.80" fill="none" stroke="#1a1a1a" stroke-width="1.3"/>
<text transform="translate(398.00,736.80) scale(1.0,1)" font-size="24" text-anchor="start" fill="#000" font-weight="bold">f</text>
<line x1="444.40" y1="769.37" x2="449.40" y2="769.37" stroke="#1a1a1a" stroke-width="1.3"/>
<text transform="translate(439.80,774.57) scale(1.035294117647059,1)" font-size="17.0" text-anchor="end" fill="#000">-4</text>
<line x1="444.40" y1="846.71" x2="449.40" y2="846.71" stroke="#1a1a1a" stroke-width="1.3"/>
<text transform="translate(439.80,851.91) scale(1.035294117647059,1)" font-size="17.0" text-anchor="end" fill="#000">-5</text>
<line x1="444.40" y1="924.06" x2="449.40" y2="924.06" stroke="#1a1a1a" stroke-width="1.3"/>
<text transform="translate(439.80,929.26) scale(1.035294117647059,1)" font-size="17.0" text-anchor="end" fill="#000">-6</text>
<line x1="444.40" y1="1001.40" x2="449.40" y2="1001.40" stroke="#1a1a1a" stroke-width="1.3"/>
<text transform="translate(439.80,1006.60) scale(1.035294117647059,1)" font-size="17.0" text-anchor="end" fill="#000">-7</text>
<line x1="446.40" y1="730.70" x2="449.40" y2="730.70" stroke="#1a1a1a" stroke-width="1.3"/>
<line x1="446.40" y1="808.04" x2="449.40" y2="808.04" stroke="#1a1a1a" stroke-width="1.3"/>
<line x1="446.40" y1="885.39" x2="449.40" y2="885.39" stroke="#1a1a1a" stroke-width="1.3"/>
<line x1="446.40" y1="962.73" x2="449.40" y2="962.73" stroke="#1a1a1a" stroke-width="1.3"/>
<line x1="449.40" y1="1001.40" x2="449.40" y2="1006.40" stroke="#1a1a1a" stroke-width="1.3"/>
<text transform="translate(449.40,1024.50) scale(1.035294117647059,1)" font-size="17.0" text-anchor="middle" fill="#000">1.7</text>
<line x1="494.00" y1="1001.40" x2="494.00" y2="1006.40" stroke="#1a1a1a" stroke-width="1.3"/>
<text transform="translate(494.00,1024.50) scale(1.035294117647059,1)" font-size="17.0" text-anchor="middle" fill="#000">1.8</text>
<line x1="538.60" y1="1001.40" x2="538.60" y2="1006.40" stroke="#1a1a1a" stroke-width="1.3"/>
<text transform="translate(538.60,1024.50) scale(1.035294117647059,1)" font-size="17.0" text-anchor="middle" fill="#000">1.9</text>
<line x1="583.20" y1="1001.40" x2="583.20" y2="1006.40" stroke="#1a1a1a" stroke-width="1.3"/>
<text transform="translate(583.20,1024.50) scale(1.035294117647059,1)" font-size="17.0" text-anchor="middle" fill="#000">2.0</text>
<line x1="627.80" y1="1001.40" x2="627.80" y2="1006.40" stroke="#1a1a1a" stroke-width="1.3"/>
<text transform="translate(627.80,1024.50) scale(1.035294117647059,1)" font-size="17.0" text-anchor="middle" fill="#000">2.1</text>
<line x1="672.40" y1="1001.40" x2="672.40" y2="1006.40" stroke="#1a1a1a" stroke-width="1.3"/>
<text transform="translate(672.40,1024.50) scale(1.035294117647059,1)" font-size="17.0" text-anchor="middle" fill="#000">2.2</text>
<line x1="471.70" y1="1001.40" x2="471.70" y2="1004.40" stroke="#1a1a1a" stroke-width="1.3"/>
<line x1="516.30" y1="1001.40" x2="516.30" y2="1004.40" stroke="#1a1a1a" stroke-width="1.3"/>
<line x1="560.90" y1="1001.40" x2="560.90" y2="1004.40" stroke="#1a1a1a" stroke-width="1.3"/>
<line x1="605.50" y1="1001.40" x2="605.50" y2="1004.40" stroke="#1a1a1a" stroke-width="1.3"/>
<line x1="650.10" y1="1001.40" x2="650.10" y2="1004.40" stroke="#1a1a1a" stroke-width="1.3"/>
<text transform="translate(561.60,1054.80) scale(0.9934065934065933,1)" font-size="18.2" text-anchor="middle" fill="#000">1/T (K<tspan font-size="12.5" dy="-7">-1</tspan><tspan dy="7">) * 1000</tspan></text>
<text transform="translate(414.50,865.70) rotate(-90) scale(0.9934065934065933,1)" font-size="18.2" text-anchor="middle" fill="#000">ln <tspan font-style="italic">r</tspan><tspan font-size="12.5" dy="3.5">i</tspan><tspan dy="-3.5"> (mol</tspan><tspan font-size="12.5" dy="3.5">i</tspan><tspan dy="-3.5"> g</tspan><tspan font-size="12.5" dy="3.5">cat</tspan><tspan font-size="12.5" dy="-10.5">-1</tspan><tspan dy="7"> h</tspan><tspan font-size="12.5" dy="-7">-1</tspan><tspan dy="7">)</tspan></text>
<line x1="527.70" y1="808.00" x2="633.80" y2="920.40" stroke="#f03030" stroke-width="1.3" stroke-dasharray="3.5,2.5"/>
<line x1="497.40" y1="807.20" x2="595.50" y2="957.30" stroke="#808080" stroke-width="1.1" stroke-dasharray="3,3"/>
<circle cx="497.40" cy="807.20" r="4.60" fill="#bdbdbd" stroke="#111" stroke-width="1.4"/>
<circle cx="527.60" cy="851.60" r="4.60" fill="#bdbdbd" stroke="#111" stroke-width="1.4"/>
<circle cx="560.20" cy="904.00" r="4.60" fill="#bdbdbd" stroke="#111" stroke-width="1.4"/>
<circle cx="595.50" cy="957.30" r="4.60" fill="#bdbdbd" stroke="#111" stroke-width="1.4"/>
<rect x="523.30" y="803.60" width="8.80" height="8.80" fill="#ff3333" stroke="#111" stroke-width="1.4"/>
<rect x="555.70" y="831.90" width="8.80" height="8.80" fill="#ff3333" stroke="#111" stroke-width="1.4"/>
<rect x="591.20" y="877.00" width="8.80" height="8.80" fill="#ff3333" stroke="#111" stroke-width="1.4"/>
<rect x="629.40" y="916.00" width="8.80" height="8.80" fill="#ff3333" stroke="#111" stroke-width="1.4"/>
<text transform="translate(558.60,766.50) scale(1.0635294117647058,1)" font-size="17.0" text-anchor="start" fill="#000">i =</text>
<rect x="587.30" y="757.30" width="8.80" height="8.80" fill="#ff3333" stroke="#111" stroke-width="1.4"/>
<text transform="translate(611.30,766.00) scale(1.0305882352941176,1)" font-size="17.0" text-anchor="start" fill="#000">MeOH</text>
<circle cx="591.70" cy="783.40" r="4.60" fill="#bdbdbd" stroke="#111" stroke-width="1.4"/>
<text transform="translate(611.30,787.00) scale(1.0305882352941176,1)" font-size="17.0" text-anchor="start" fill="#000">CO</text>
<text transform="translate(550.6,803.5) rotate(45.5) scale(1.02,1)" font-size="14.3" fill="#f03030">E<tspan font-size="9.5" dy="3">a,app</tspan><tspan dy="-3"> = 51.6 kJ mol</tspan><tspan font-size="9.5" dy="-0.5">-1</tspan></text>
<text transform="translate(489.7,841.9) rotate(56.5) scale(1.02,1)" font-size="14.3" fill="#888">E<tspan font-size="9.5" dy="3">a,app</tspan><tspan dy="-3"> = 73.8 kJ mol</tspan><tspan font-size="9.5" dy="-0.5">-1</tspan></text>
<rect x="449.40" y="730.70" width="223.00" height="270.70" fill="none" stroke="#1a1a1a" stroke-width="1.3"/>
</svg>
</body></html>
